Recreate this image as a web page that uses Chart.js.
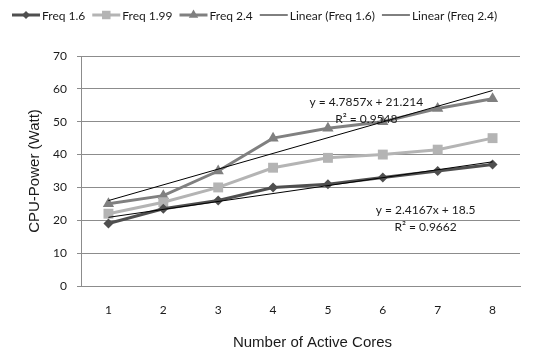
<!DOCTYPE html>
<html>
<head>
<meta charset="utf-8">
<script src="https://cdn.jsdelivr.net/npm/chart.js@4.4.1/dist/chart.umd.min.js"></script>
<style>
  html, body { margin: 0; padding: 0; background: #fff; }
</style>
</head>
<body>
<canvas id="chart" width="550" height="356"></canvas>
<script>
// --- data ---
const cores   = ['1', '2', '3', '4', '5', '6', '7', '8'];
const freq16  = [19, 23.5, 26, 30, 31, 33, 35, 37];
const freq199 = [22, 25.5, 30, 36, 39, 40, 41.5, 45];
const freq24  = [25, 27.5, 35, 45, 48, 50, 54, 57];
// trendline end points (core 1 and core 8)
const trend16 = [20.9, null, null, null, null, null, null, 37.8];
const trend24 = [26.0, null, null, null, null, null, null, 59.5];
const yMin = 0, yMax = 70, yStep = 10;
const eq16 = ['y = 2.4167x + 18.5', 'R\u00B2 = 0.9662'];
const eq24 = ['y = 4.7857x + 21.214', 'R\u00B2 = 0.9548'];
const xTitle = 'Number of Active Cores';

const GRID = '#8c8c8c';
const TEXT = '#1a1a1a';
const SMALL = '12px Lato, sans-serif';

// legend drawn as line + marker like the spreadsheet original
const legendPlugin = {
  id: 'sheetLegend',
  afterDraw(chart) {
    const ctx = chart.ctx;
    const y = 15;
    let x = 12;
    ctx.save();
    ctx.font = SMALL;
    ctx.textBaseline = 'middle';
    chart.data.datasets.forEach(ds => {
      const w = 28;
      ctx.strokeStyle = ds.borderColor;
      ctx.lineWidth = ds.borderWidth;
      ctx.beginPath();
      ctx.moveTo(x, y);
      ctx.lineTo(x + w, y);
      ctx.stroke();
      if (ds.pointRadius > 0) {
        ctx.fillStyle = ds.pointBackgroundColor;
        ctx.beginPath();
        Chart.helpers.drawPoint(ctx, {
          pointStyle: ds.pointStyle,
          radius: ds.pointRadius - 1,
          borderWidth: 0,
          rotation: 0
        }, x + w / 2, y);
      }
      x += w + 2;
      ctx.fillStyle = TEXT;
      ctx.fillText(ds.label, x, y + 1);
      x += ctx.measureText(ds.label).width + 7;
    });
    ctx.restore();
  }
};

// trendline equations + x axis title (sits a bit right of centre in the original)
const textPlugin = {
  id: 'extraText',
  afterDatasetsDraw(chart) {
    const { ctx, chartArea, scales: { x, y } } = chart;
    const put = (lines, xi, yv) => {
      const px = x.getPixelForValue(xi);
      const py = y.getPixelForValue(yv);
      lines.forEach((t, i) => ctx.fillText(t, px, py + i * 17));
    };
    ctx.save();
    ctx.font = SMALL;
    ctx.fillStyle = TEXT;
    ctx.textAlign = 'center';
    ctx.textBaseline = 'middle';
    put(eq24, 4.7, 56);
    put(eq16, 5.78, 23.1);
    ctx.font = '15px "Liberation Sans", sans-serif';
    ctx.fillText(xTitle, (chartArea.left + chartArea.right) / 2 + 12, chart.height - 13);
    ctx.restore();
  }
};

new Chart(document.getElementById('chart'), {
  type: 'line',
  data: {
    labels: cores,
    datasets: [
      {
        label: 'Freq 1.6', data: freq16, order: 1,
        borderColor: '#4f4f4f', backgroundColor: '#4f4f4f', pointBackgroundColor: '#4f4f4f',
        borderWidth: 3, pointStyle: 'rectRot', pointRadius: 5, pointBorderWidth: 0
      },
      {
        label: 'Freq 1.99', data: freq199, order: 1,
        borderColor: '#b4b4b4', backgroundColor: '#b4b4b4', pointBackgroundColor: '#b4b4b4',
        borderWidth: 3, pointStyle: 'rect', pointRadius: 7, pointBorderWidth: 0
      },
      {
        label: 'Freq 2.4', data: freq24, order: 1,
        borderColor: '#808080', backgroundColor: '#808080', pointBackgroundColor: '#808080',
        borderWidth: 3, pointStyle: 'triangle', pointRadius: 6.5, pointBorderWidth: 0
      },
      {
        label: 'Linear (Freq 1.6)', data: trend16, order: 0, spanGaps: true,
        borderColor: '#000', borderWidth: 1, pointRadius: 0
      },
      {
        label: 'Linear (Freq 2.4)', data: trend24, order: 0, spanGaps: true,
        borderColor: '#000', borderWidth: 1, pointRadius: 0
      }
    ]
  },
  options: {
    responsive: false,
    animation: false,
    layout: { padding: { top: 56, right: 30, left: 0, bottom: 0 } },
    plugins: {
      legend: { display: false },
      tooltip: { enabled: false }
    },
    elements: { line: { tension: 0 } },
    scales: {
      x: {
        offset: true,
        grid: { display: false, drawTicks: false },
        border: { display: true, color: GRID, width: 1 },
        ticks: { color: TEXT, font: { family: 'Lato', size: 12 }, padding: 17 },
        afterFit: s => { s.height = 70; }
      },
      y: {
        min: yMin, max: yMax,
        grid: { color: GRID, lineWidth: 1, tickLength: 4 },
        border: { display: true, color: GRID, width: 1 },
        ticks: { stepSize: yStep, color: TEXT, font: { family: 'Lato', size: 12 }, padding: 10 },
        title: {
          display: true, text: 'CPU-Power (Watt)', color: TEXT,
          font: { family: 'Liberation Sans', size: 15 }, padding: { top: 26, bottom: 0 }
        },
        afterFit: s => { s.width = 81; }
      }
    }
  },
  plugins: [legendPlugin, textPlugin]
});
</script>
</body>
</html>
